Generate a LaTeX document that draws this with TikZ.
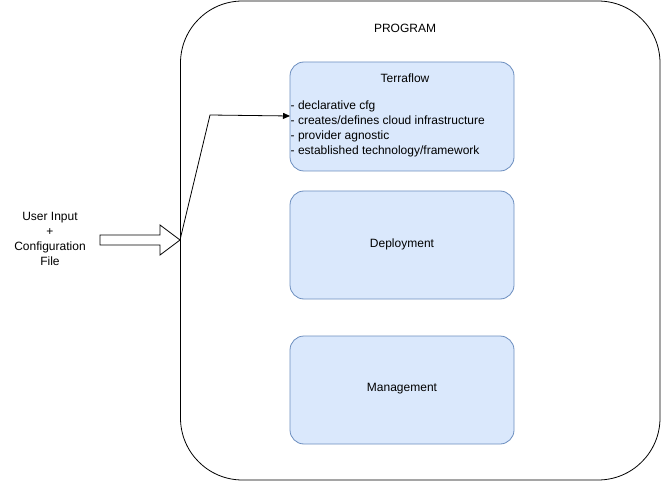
\documentclass[tikz,border=0pt]{standalone}
\usepackage{fontspec}
\setmainfont{Liberation Sans}
\usetikzlibrary{arrows.meta,shapes.arrows}
\definecolor{bfill}{HTML}{DAE8FC}
\definecolor{bdraw}{HTML}{6C8EBF}
\begin{document}
\begin{tikzpicture}[x=1pt,y=-1pt,
  every node/.style={font=\fontsize{12}{15}\selectfont, inner sep=0pt},
  bluebox/.style={draw=bdraw, fill=bfill, rounded corners=14pt, line width=0.8pt},
  conn/.style={draw=black, line width=0.8pt, -{Triangle[length=7pt,width=6pt]}}]
\useasboundingbox (0,0) rectangle (661,481);
\draw[line width=0.8pt, rounded corners=62pt] (180.5,1) rectangle (660,480);
\node (prog) at (405,28) {PROGRAM};
\draw[bluebox] (290,62) rectangle (514,171);
\coordinate (tfleft) at (290,116);
\node (tf) at (405,78) {Terraflow};
\node[anchor=north west, align=left] (tftext) at (290.5,100.5) {- declarative cfg\\- creates/defines cloud infrastructure\\- provider agnostic\\- established technology/framework};
\draw[bluebox] (290,191) rectangle (514,299);
\node (dep) at (402,244) {Deployment};
\draw[bluebox] (290,336) rectangle (514,444);
\node (man) at (402,389) {Management};
\node[align=center] (user) at (50,239) {User Input\\+\\Configuration\\File};
\draw[line width=0.8pt, fill=white] (100,235) -- (160,235) -- (160,225) -- (180,240) -- (160,255) -- (160,245) -- (100,245) -- cycle;
\coordinate (tip) at (180,240);
\coordinate (bend) at (210,115);
\draw[conn] (tip) -- (bend) -- (tfleft);
\end{tikzpicture}
\end{document}
